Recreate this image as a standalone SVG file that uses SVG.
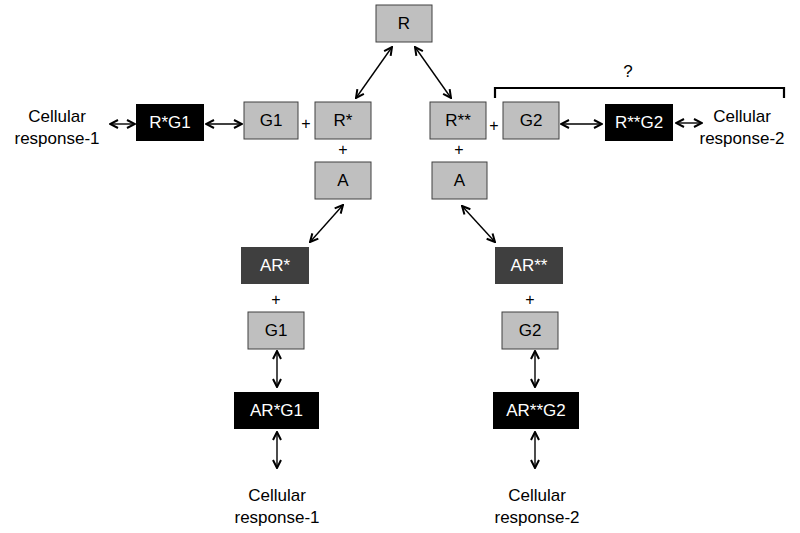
<svg xmlns="http://www.w3.org/2000/svg" width="800" height="533" viewBox="0 0 800 533">
<style>
text{font-family:"Liberation Sans",Arial,sans-serif;font-size:17px;text-anchor:middle;fill:#000}
.g rect{fill:#bfbfbf;stroke:#404040;stroke-width:1}
.b rect{fill:#000}
.d rect{fill:#3f3f3f}
.b text,.d text{fill:#fff}
.c line{stroke:#000;stroke-width:1.4;marker-start:url(#ah);marker-end:url(#ah)}
.plus{font-size:16px}
</style>
<defs>
<marker id="ah" viewBox="0 0 10 10" refX="9" refY="5" markerWidth="10" markerHeight="10" markerUnits="userSpaceOnUse" orient="auto-start-reverse">
<path d="M1,1 L9,5 L1,9" fill="none" stroke="#000" stroke-width="2"/>
</marker>
</defs>
<rect width="800" height="533" fill="#fff"/>
<g id="R" class="g"><rect x="376" y="5" width="56" height="37"/><text x="404" y="29">R</text></g>
<g id="Rstar" class="g"><rect x="315" y="102" width="56" height="37"/><text x="343" y="126">R*</text></g>
<g id="G1top" class="g"><rect x="244" y="102" width="54" height="37"/><text x="271" y="126">G1</text></g>
<g id="RG1" class="b"><rect x="136" y="104" width="68" height="37"/><text x="170" y="128">R*G1</text></g>
<g id="Aleft" class="g"><rect x="315" y="162" width="56" height="37"/><text x="343" y="186">A</text></g>
<g id="Rss" class="g"><rect x="430" y="102" width="56" height="37"/><text x="458" y="126">R**</text></g>
<g id="G2top" class="g"><rect x="503" y="102" width="56" height="37"/><text x="531" y="126">G2</text></g>
<g id="RssG2" class="b"><rect x="605" y="104" width="68" height="37"/><text x="639" y="128">R**G2</text></g>
<g id="Aright" class="g"><rect x="432" y="162" width="55" height="37"/><text x="459.5" y="186">A</text></g>
<g id="ARs" class="d"><rect x="241" y="247" width="68" height="37"/><text x="275" y="271">AR*</text></g>
<g id="G1low" class="g"><rect x="248" y="312" width="56" height="37"/><text x="276" y="336">G1</text></g>
<g id="ARsG1" class="b"><rect x="234" y="392" width="85" height="37"/><text x="276.5" y="416">AR*G1</text></g>
<g id="ARss" class="d"><rect x="495" y="247" width="68" height="37"/><text x="529" y="271">AR**</text></g>
<g id="G2low" class="g"><rect x="502" y="312" width="56" height="37"/><text x="530" y="336">G2</text></g>
<g id="ARssG2" class="b"><rect x="493" y="392" width="86" height="37"/><text x="536" y="416">AR**G2</text></g>
<g id="cr1top"><text x="57" y="122">Cellular</text><text x="57" y="144">response-1</text></g>
<g id="cr2top"><text x="742" y="122">Cellular</text><text x="742" y="144">response-2</text></g>
<g id="cr1bot"><text x="277" y="501">Cellular</text><text x="277" y="523">response-1</text></g>
<g id="cr2bot"><text x="537" y="501">Cellular</text><text x="537" y="523">response-2</text></g>
<g id="plus">
<text class="plus" x="306" y="129">+</text>
<text class="plus" x="343" y="155">+</text>
<text class="plus" x="494" y="131">+</text>
<text class="plus" x="459" y="155">+</text>
<text class="plus" x="276" y="305">+</text>
<text class="plus" x="530" y="305">+</text>
</g>
<g id="bracket"><path d="M495,98 V88 H784 V98" fill="none" stroke="#000" stroke-width="2.2"/><text x="628" y="77">?</text></g>
<g id="connectors" class="c">
<line x1="110" y1="124" x2="135" y2="124"/>
<line x1="206" y1="124" x2="242" y2="124"/>
<line x1="392" y1="47" x2="356" y2="98"/>
<line x1="415" y1="47" x2="451" y2="98"/>
<line x1="561" y1="124" x2="602" y2="124"/>
<line x1="676" y1="123" x2="702" y2="123"/>
<line x1="343" y1="205" x2="310" y2="242"/>
<line x1="462" y1="206" x2="495" y2="242"/>
<line x1="277" y1="351" x2="277" y2="387"/>
<line x1="277" y1="432" x2="277" y2="468"/>
<line x1="535" y1="351" x2="535" y2="387"/>
<line x1="535" y1="432" x2="535" y2="468"/>
</g>
</svg>
